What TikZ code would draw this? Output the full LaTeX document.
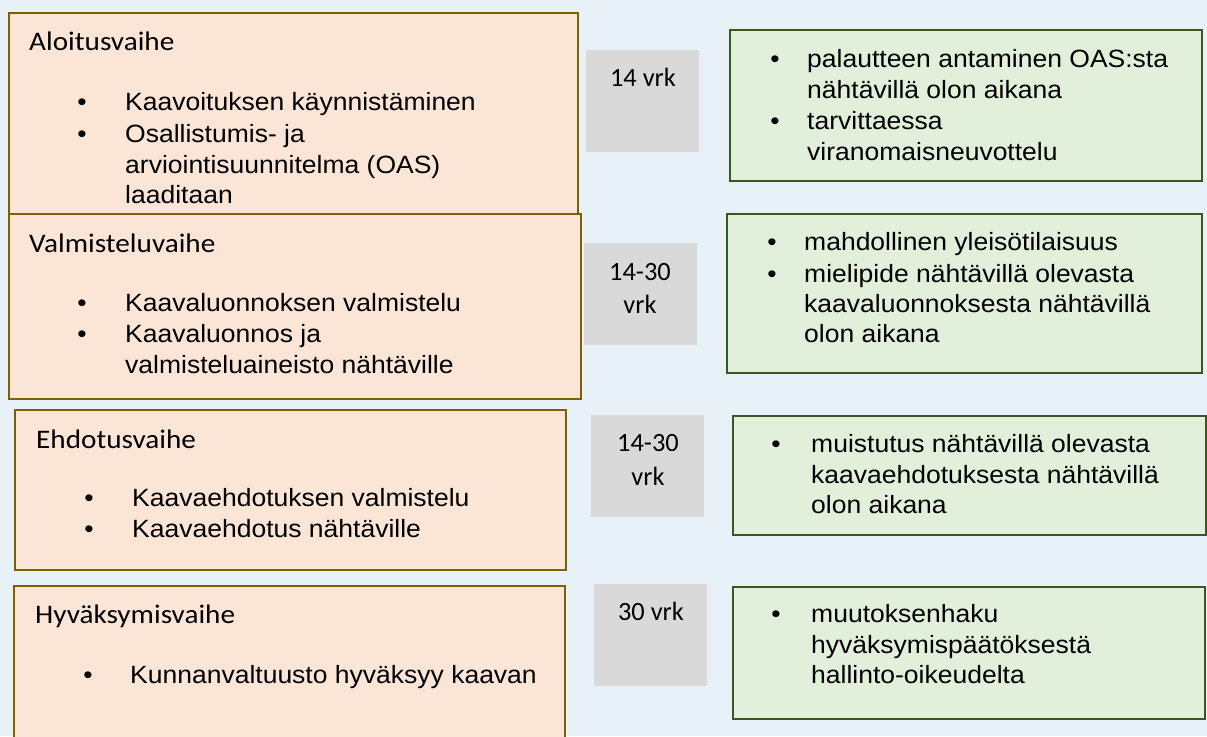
\documentclass[tikz,border=0pt]{standalone}
\usepackage{fontspec}
\setmainfont{Liberation Sans}[FakeStretch=1.06]
\newfontfamily\calib{Carlito}
\newfontfamily\calibw{Carlito}[FakeStretch=1.09]
\definecolor{bgc}{RGB}{232,240,248}
\definecolor{ofill}{RGB}{251,229,214}
\definecolor{oline}{RGB}{127,96,0}
\definecolor{gfill}{RGB}{226,239,218}
\definecolor{gline}{RGB}{56,87,35}
\definecolor{grayc}{RGB}{217,217,217}
\tikzset{
  obox/.style={draw=oline, fill=ofill, line width=2.2pt, anchor=north west, inner sep=0pt},
  gbox/.style={draw=gline, fill=gfill, line width=2.2pt, anchor=north west, inner sep=0pt},
  dbox/.style={fill=grayc, anchor=north west, inner sep=0pt},
  ttl/.style={anchor=base west, inner sep=0pt, font=\calibw\fontsize{26.8}{30}\selectfont},
  dtx/.style={anchor=base, inner sep=0pt, font=\calib\fontsize{26.4}{30}\selectfont},
  otx/.style={anchor=base west, inner sep=0pt, font=\fontsize{25}{31}\selectfont},
  obul/.style={anchor=base, inner sep=0pt, font=\fontsize{25}{31}\selectfont},
  gtx/.style={anchor=base west, inner sep=0pt, font=\fontsize{25}{31}\selectfont},
  gbul/.style={anchor=base, inner sep=0pt, font=\fontsize{25}{31}\selectfont},
}
\begin{document}
\begin{tikzpicture}[x=1pt,y=-1pt]
\useasboundingbox (0,0) rectangle (1207,736);
\clip (0,0) rectangle (1207,736);
\fill[bgc] (0,0) rectangle (1207,736);

% orange phase boxes
\node[obox, minimum width=569pt, minimum height=201pt] (b1) at (8,12) {};
\node[obox, minimum width=572pt, minimum height=185pt] (b2) at (8,213) {};
\node[obox, minimum width=551pt, minimum height=160pt] (b3) at (14,409) {};
\node[obox, minimum width=551pt, minimum height=170pt] (b4) at (13,585) {};

% gray duration boxes
\node[dbox, minimum width=113pt, minimum height=102pt] (d1) at (586,50) {};
\node[dbox, minimum width=113pt, minimum height=102pt] (d2) at (584,243) {};
\node[dbox, minimum width=113pt, minimum height=102pt] (d3) at (591,415) {};
\node[dbox, minimum width=113pt, minimum height=102pt] (d4) at (594,584) {};

% green boxes
\node[gbox, minimum width=472pt, minimum height=151pt] (g1) at (729,29) {};
\node[gbox, minimum width=475pt, minimum height=159pt] (g2) at (726,213) {};
\node[gbox, minimum width=473pt, minimum height=119pt] (g3) at (732,415) {};
\node[gbox, minimum width=472pt, minimum height=132pt] (g4) at (732,586) {};

% box 1 text
\node[ttl] (t1) at (29,50) {Aloitusvaihe};
\node[obul] (b1a) at (82,110) {•};
\node[otx] (b1al1) at (125,110) {Kaavoituksen käynnistäminen};
\node[obul] (b1b) at (82,142) {•};
\node[otx] (b1bl1) at (125,142) {Osallistumis- ja};
\node[otx] (b1bl2) at (125,173) {arviointisuunnitelma (OAS)};
\node[otx] (b1bl3) at (125,203) {laaditaan};

% box 2 text
\node[ttl] (t2) at (29,252) {Valmisteluvaihe};
\node[obul] (b2a) at (82,311) {•};
\node[otx] (b2al1) at (125,311) {Kaavaluonnoksen valmistelu};
\node[obul] (b2b) at (82,342) {•};
\node[otx] (b2bl1) at (125,342) {Kaavaluonnos ja};
\node[otx] (b2bl2) at (125,373) {valmisteluaineisto nähtäville};

% box 3 text
\node[ttl] (t3) at (36,448) {Ehdotusvaihe};
\node[obul] (b3a) at (89,506) {•};
\node[otx] (b3al1) at (132,506) {Kaavaehdotuksen valmistelu};
\node[obul] (b3b) at (89,537) {•};
\node[otx] (b3bl1) at (132,537) {Kaavaehdotus nähtäville};

% box 4 text
\node[ttl] (t4) at (35,623) {Hyväksymisvaihe};
\node[obul] (b4a) at (88,683) {•};
\node[otx] (b4al1) at (130,683) {Kunnanvaltuusto hyväksyy kaavan};

% gray texts
\node[dtx] (d1t) at (643,86) {14 vrk};
\node[dtx] (d2t1) at (640,280) {14-30};
\node[dtx] (d2t2) at (640,313) {vrk};
\node[dtx] (d3t1) at (648,451) {14-30};
\node[dtx] (d3t2) at (648,485) {vrk};
\node[dtx] (d4t) at (651,620) {30 vrk};

% green 1
\node[gbul] (g1a) at (775,67) {•};
\node[gtx] (g1al1) at (807,67) {palautteen antaminen OAS:sta};
\node[gtx] (g1al2) at (807,98) {nähtävillä olon aikana};
\node[gbul] (g1b) at (775,129) {•};
\node[gtx] (g1bl1) at (807,129) {tarvittaessa};
\node[gtx] (g1bl2) at (807,160) {viranomaisneuvottelu};

% green 2
\node[gbul] (g2a) at (772,250) {•};
\node[gtx] (g2al1) at (804,250) {mahdollinen yleisötilaisuus};
\node[gbul] (g2b) at (772,282) {•};
\node[gtx] (g2bl1) at (804,282) {mielipide nähtävillä olevasta};
\node[gtx] (g2bl2) at (804,312) {kaavaluonnoksesta nähtävillä};
\node[gtx] (g2bl3) at (804,342) {olon aikana};

% green 3
\node[gbul] (g3a) at (776,452) {•};
\node[gtx] (g3al1) at (811,452) {muistutus nähtävillä olevasta};
\node[gtx] (g3al2) at (811,483) {kaavaehdotuksesta nähtävillä};
\node[gtx] (g3al3) at (811,513) {olon aikana};

% green 4
\node[gbul] (g4a) at (776,622) {•};
\node[gtx] (g4al1) at (811,622) {muutoksenhaku};
\node[gtx] (g4al2) at (811,653) {hyväksymispäätöksestä};
\node[gtx] (g4al3) at (811,683) {hallinto-oikeudelta};
\end{tikzpicture}
\end{document}
